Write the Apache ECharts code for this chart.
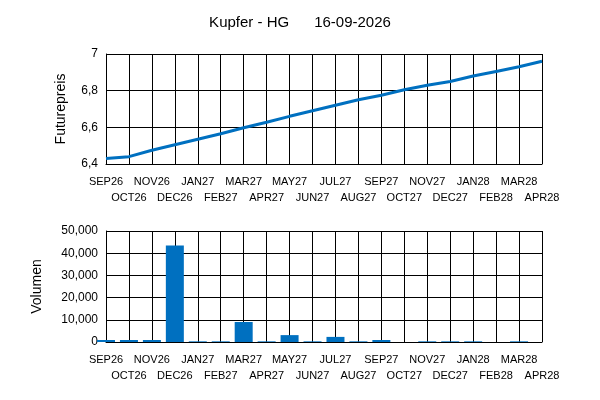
<!DOCTYPE html><html><head><meta charset="utf-8"><script src="https://cdn.jsdelivr.net/npm/echarts@6/dist/echarts.min.js"></script></head><body style="margin:0"><div id="c" style="width:600px;height:400px"></div><script>
const categories=['SEP26','OCT26','NOV26','DEC26','JAN27','FEB27','MAR27','APR27','MAY27','JUN27','JUL27','AUG27','SEP27','OCT27','NOV27','DEC27','JAN28','FEB28','MAR28','APR28'];
const prices=[6.43,6.44,6.475,6.505,6.535,6.565,6.598,6.628,6.66,6.69,6.72,6.75,6.775,6.805,6.83,6.85,6.88,6.905,6.93,6.96];
const volumes=[900,900,900,43500,300,300,9000,300,3100,300,2300,300,900,0,300,300,300,0,300,0];
const font='Liberation Sans, Arial, sans-serif';
const xAx=(gi)=>({type:'category',gridIndex:gi,data:categories,boundaryGap:false,
 axisLine:{lineStyle:{color:'#000'}},axisTick:{show:false},
 splitLine:{show:true,lineStyle:{color:'#000',width:1}},
 axisLabel:{interval:0,color:'#000',fontSize:11,fontFamily:font,margin:10,lineHeight:16,
  formatter:(v,i)=>i%2?'\n'+v:v}});
const yCommon={axisLine:{show:true,lineStyle:{color:'#000'}},axisTick:{show:false},
 splitLine:{lineStyle:{color:'#000'}},nameLocation:'middle',nameTextStyle:{color:'#000',fontSize:14,fontFamily:font},
 axisLabel:{color:'#000',fontSize:12,fontFamily:font}};
const ch=echarts.init(document.getElementById('c'));
ch.setOption({animation:false,backgroundColor:'#fff',
 title:{text:'Kupfer - HG      16-09-2026',left:'center',top:10,textStyle:{fontSize:15,fontWeight:'normal',color:'#000',fontFamily:font}},
 grid:[{left:106,right:58,top:54,height:110},{left:106,right:58,top:231,height:111}],
 xAxis:[xAx(0),xAx(1)],
 yAxis:[Object.assign({type:'value',gridIndex:0,min:6.4,max:7,interval:0.2,name:'Futurepreis',nameGap:38,
   axisLabel:Object.assign({},yCommon.axisLabel,{formatter:v=>Number.isInteger(Math.round(v*10)/10)&&Math.abs(v-Math.round(v))<1e-9?String(Math.round(v)):v.toFixed(1).replace('.',',')})},{axisLine:yCommon.axisLine,axisTick:yCommon.axisTick,splitLine:yCommon.splitLine,nameLocation:'middle',nameTextStyle:yCommon.nameTextStyle}),
  Object.assign({},yCommon,{type:'value',gridIndex:1,min:0,max:50000,interval:10000,name:'Volumen',nameGap:62})],
 series:[{type:'line',xAxisIndex:0,yAxisIndex:0,data:prices,symbol:'none',lineStyle:{color:'#0070C0',width:3}},
  {type:'bar',xAxisIndex:1,yAxisIndex:1,data:volumes,barWidth:18,itemStyle:{color:'#0070C0'}}]});
</script></body></html>
